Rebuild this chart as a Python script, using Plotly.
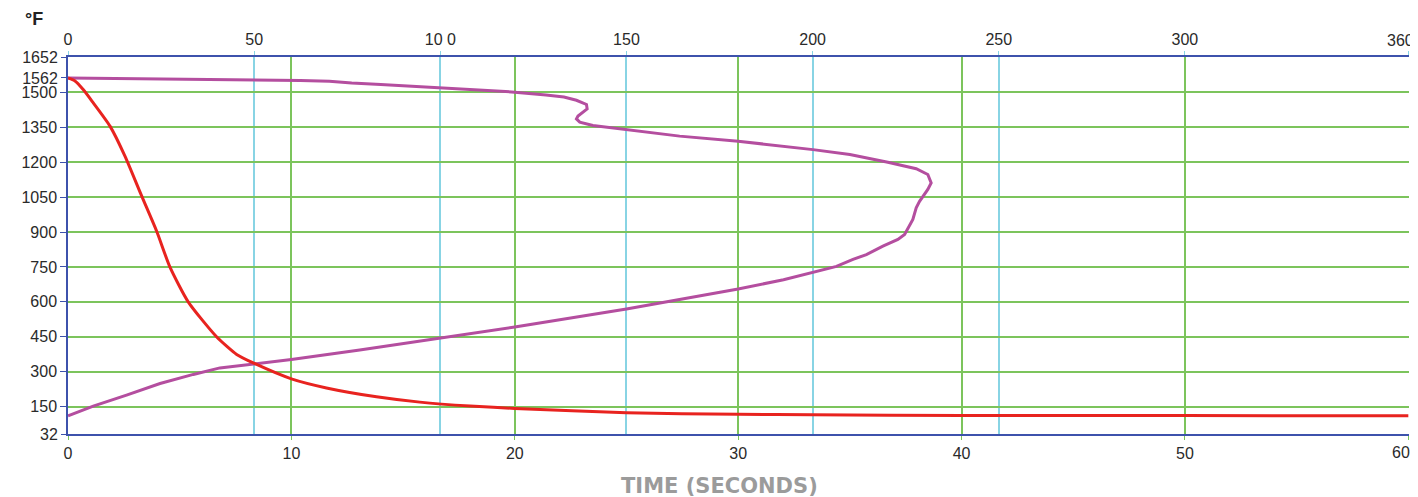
import plotly.graph_objects as go

# ---- data ----
red_time = [0, 0.3, 0.68, 1.13, 1.88, 2.55, 3.3, 3.97, 4.56, 5.38, 6.65, 7.55, 8.37, 10, 11.57,
            13.81, 15.75, 18, 20, 25, 30, 33.3, 40, 50, 60]
red_temp = [1562, 1550, 1512, 1455, 1355, 1226, 1054, 903, 750, 600, 450, 374, 334, 269, 230,
            192, 169, 152, 142, 123, 117, 114.5, 112, 111, 110]

mag_time = [0, 4, 8.37, 10.4, 11.7, 12.7, 14.0, 16.64, 18.43, 20, 21.4, 22.2, 22.76, 23.21, 23.24,
            22.83, 22.76, 22.91, 23.5, 25.0, 27.38, 30, 32.75, 33.35, 35.0, 36.7, 37.97, 38.49,
            38.64, 38.49, 38.12, 37.97, 37.82, 37.45, 37.15, 36.48, 35.74, 35.14, 34.4, 33.33,
            32.03, 30, 26.73, 25, 20, 16.67, 13.06, 10, 8.37, 6.8, 5.61, 4.12,
            2.62, 1.13, 0]
mag_temp = [1562, 1559, 1555, 1551, 1548, 1540, 1534, 1520, 1508, 1501, 1489, 1480, 1466, 1448, 1429,
            1398, 1386, 1372, 1358, 1340, 1312, 1290, 1262, 1254, 1233, 1200, 1172, 1147,
            1111, 1083, 1032, 1004, 954, 889, 868, 839, 803, 782, 752, 727,
            695, 655, 600, 569, 492, 443, 393, 352, 335, 316, 288, 249,
            199, 152, 110]

bottom_ticks = [0, 10, 20, 30, 40, 50, 60]
bottom_labels = ["0", "10", "20", "30", "40", "50", ""]
bottom_end_label = "60"
top_ticks = [0, 50, 100, 150, 200, 250, 300, 360]
top_labels = ["0", "50", "10 0", "150", "200", "250", "300", ""]
top_end_label = "360"
grid_temps = [150, 300, 450, 600, 750, 900, 1050, 1200, 1350, 1500]
extra_temps = [32, 1562, 1652]

GREEN = "#7CC45C"
CYAN = "#88D4E4"
BLUE = "#3D52AC"
RED = "#E8231F"
MAG = "#B44E9F"
FONT = dict(family="Liberation Sans, Arial, sans-serif", size=16, color="#2a2a2a")

fig = go.Figure()
# helper traces so that every axis gets drawn
fig.add_trace(go.Scatter(x=[None], y=[None], xaxis="x", yaxis="y", showlegend=False,
                         hoverinfo="skip"))
fig.add_trace(go.Scatter(x=[None], y=[None], xaxis="x", yaxis="y2", showlegend=False,
                         hoverinfo="skip"))
fig.add_trace(go.Scatter(x=mag_time, y=mag_temp, mode="lines", xaxis="x2", yaxis="y",
                         line=dict(color=MAG, width=3), showlegend=False))
fig.add_trace(go.Scatter(x=red_time, y=red_temp, mode="lines", xaxis="x2", yaxis="y",
                         line=dict(color=RED, width=3, shape="spline", smoothing=0.6),
                         showlegend=False))

fig.update_layout(
    width=1410, height=489,
    margin=dict(l=60, r=9, t=49, b=62.5),
    paper_bgcolor="white", plot_bgcolor="white",
    font=FONT,
    # top axis (main x): cyan grid
    xaxis=dict(range=[0, 360.2], tickvals=top_ticks, ticktext=top_labels,
               side="top", anchor="y", showgrid=True, gridcolor=CYAN, gridwidth=1.5,
               zeroline=False, showline=True, linecolor=BLUE, linewidth=1.5,
               ticks="outside", ticklen=4, tickcolor=CYAN, tickfont=FONT, automargin=False,
               ticklabeloverflow="allow"),
    # bottom axis (time in seconds): green grid
    xaxis2=dict(range=[0, 60.03], tickvals=bottom_ticks, ticktext=bottom_labels, overlaying="x",
                side="bottom", anchor="y", showgrid=True, gridcolor=GREEN, gridwidth=1.5,
                zeroline=False, showline=True, linecolor=BLUE, linewidth=1.5,
                ticks="outside", ticklen=4, tickcolor=GREEN, tickfont=FONT, automargin=False,
                ticklabeloverflow="allow"),
    yaxis=dict(range=[32, 1652], tickvals=grid_temps, showgrid=True, gridcolor=GREEN,
               gridwidth=1.5, zeroline=False, showline=True, linecolor=BLUE, linewidth=1.5,
               ticks="outside", ticklen=6, tickcolor=BLUE, tickfont=FONT, automargin=False),
    yaxis2=dict(range=[32, 1652], tickvals=extra_temps, overlaying="y", side="left",
                anchor="x", showgrid=False, zeroline=False, showline=False,
                ticks="outside", ticklen=6, tickcolor=BLUE, tickfont=FONT, automargin=False),
    annotations=[
        dict(text="<b>°F</b>", xref="paper", yref="paper", x=-0.025, y=1.1,
             xanchor="center", yanchor="middle", showarrow=False,
             font=dict(family="Liberation Sans, Arial, sans-serif", size=18, color="#222")),
        dict(text="<b>TIME (SECONDS)</b>", xref="paper", yref="paper", x=0.486, y=-0.138,
             xanchor="center", yanchor="middle", showarrow=False,
             font=dict(family="DejaVu Sans, sans-serif", size=21, color="#9b9b9b")),
        dict(text=top_end_label, xref="x", yref="paper", x=top_ticks[-1], y=1,
             xanchor="right", yanchor="middle", xshift=8, yshift=17, showarrow=False,
             font=FONT),
        dict(text=bottom_end_label, xref="x2", yref="paper", x=bottom_ticks[-1], y=0,
             xanchor="right", yanchor="middle", xshift=4, yshift=-18, showarrow=False,
             font=FONT),
    ],
)

fig.write_html("out.html")
